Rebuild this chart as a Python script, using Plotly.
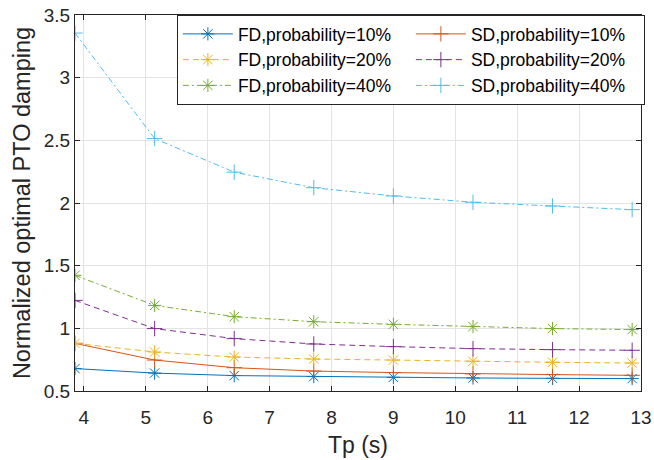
import plotly.graph_objects as go

tp = [3.857, 5.143, 6.429, 7.714, 9.0, 10.286, 11.571, 12.857]
fd10 = [0.679, 0.643, 0.623, 0.615, 0.609, 0.604, 0.601, 0.599]
sd10 = [0.880, 0.747, 0.686, 0.659, 0.647, 0.636, 0.631, 0.625]
fd20 = [0.880, 0.811, 0.771, 0.755, 0.747, 0.737, 0.729, 0.723]
sd20 = [1.223, 0.998, 0.918, 0.875, 0.854, 0.838, 0.830, 0.825]
fd40 = [1.423, 1.183, 1.093, 1.053, 1.032, 1.014, 0.998, 0.990]
sd40 = [3.356, 2.514, 2.246, 2.122, 2.056, 2.006, 1.976, 1.947]

x_ticks = [4, 5, 6, 7, 8, 9, 10, 11, 12, 13]
y_ticks = [0.5, 1, 1.5, 2, 2.5, 3, 3.5]
y_tick_labels = ["0.5", "1", "1.5", "2", "2.5", "3", "3.5"]

series = [
    ("FD,probability=10%", fd10, "#0072BD", "solid", "asterisk-open"),
    ("SD,probability=10%", sd10, "#D95319", "solid", "cross-thin-open"),
    ("FD,probability=20%", fd20, "#EDB120", "6px,4px", "asterisk-open"),
    ("SD,probability=20%", sd20, "#7E2F8E", "6px,4px", "cross-thin-open"),
    ("FD,probability=40%", fd40, "#77AC30", "6px,3px,2px,3px", "asterisk-open"),
    ("SD,probability=40%", sd40, "#4DBEEE", "6px,3px,2px,3px", "cross-thin-open"),
]

fig = go.Figure()
for name, vals, color, dash, sym in series:
    fig.add_trace(go.Scatter(
        x=tp, y=vals, name=name, mode="lines+markers",
        line=dict(color=color, width=1, dash=dash),
        marker=dict(symbol=sym, size=11, color=color, line=dict(color=color, width=1)),
    ))

font_family = "Liberation Sans, Arial, Helvetica, sans-serif"
axis_color = "#262626"

fig.update_layout(
    width=654, height=460,
    margin=dict(l=75, r=13, t=15, b=69, autoexpand=False),
    paper_bgcolor="white", plot_bgcolor="white",
    font=dict(family=font_family, color=axis_color, size=19),
    showlegend=True,
    legend=dict(
        orientation="h",
        x=0.18, xanchor="left", y=1.0, yanchor="top",
        bgcolor="white", bordercolor=axis_color, borderwidth=1,
        font=dict(size=17.5, color="#000000"),
        entrywidth=168, itemwidth=50,
        tracegroupgap=0,
    ),
)
fig.update_xaxes(
    range=[3.857, 13], tickvals=x_ticks,
    showgrid=True, gridcolor="#e3e3e3", gridwidth=1,
    showline=True, linecolor=axis_color, linewidth=1, mirror="ticks",
    ticks="inside", ticklen=5, tickcolor=axis_color,
    tickfont=dict(size=19), zeroline=False, automargin=False,
    ticklabelstandoff=9,
    title=dict(text="Tp (s)", font=dict(size=23), standoff=10),
)
fig.update_yaxes(
    range=[0.5, 3.5], tickvals=y_ticks, ticktext=y_tick_labels,
    showgrid=True, gridcolor="#e3e3e3", gridwidth=1,
    showline=True, linecolor=axis_color, linewidth=1, mirror="ticks",
    ticks="inside", ticklen=5, tickcolor=axis_color,
    tickfont=dict(size=19), zeroline=False, automargin=False,
    title=dict(text="Normalized optimal PTO damping", font=dict(size=23.5), standoff=6),
)

fig.write_html(
    "out.html",
    config={"displayModeBar": False},
    post_script="document.body.style.margin='0';document.body.style.overflow='hidden';",
)
